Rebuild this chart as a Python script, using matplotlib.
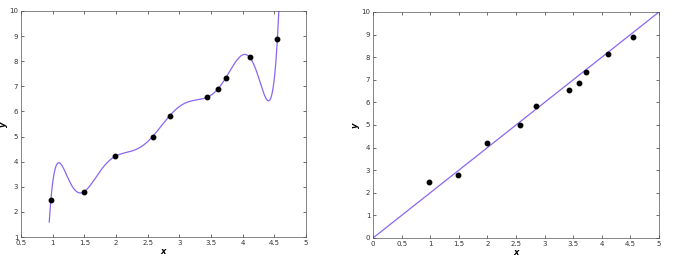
import numpy as np
import matplotlib
matplotlib.use("Agg")
import matplotlib.pyplot as plt

# data
x_data = [0.9717, 1.4913, 1.9870, 2.5777, 2.8449, 3.4334, 3.6033, 3.7310, 4.1114, 4.5479]
y_data = [2.4830, 2.7980, 4.2101, 5.0014, 5.8212, 6.5580, 6.8785, 7.3271, 8.1545, 8.8728]
line_slope = 2.0

line_color = "#8b66f2"

plt.rcParams["font.size"] = 5
plt.rcParams["font.family"] = "DejaVu Sans"

fig = plt.figure(figsize=(6.73, 2.59), dpi=100)
ax1 = fig.add_axes([21 / 673, 22 / 259, 285 / 673, 226 / 259])
ax2 = fig.add_axes([373 / 673, 21 / 259, 286 / 673, 226 / 259])

# left: interpolating polynomial through all points
poly = np.polynomial.Polynomial.fit(x_data, y_data, len(x_data) - 1)
xs = np.linspace(0.946, 4.57, 400)
ax1.plot(xs, poly(xs), color=line_color, lw=0.9)
ax1.plot(x_data, y_data, "o", color="black", ms=3.2)
ax1.set_xlim(0.5, 5)
ax1.set_ylim(1, 10)
ax1.set_xticks(np.arange(0.5, 5.01, 0.5))
ax1.set_xticklabels(["0.5", "1", "1.5", "2", "2.5", "3", "3.5", "4", "4.5", "5"])
ax1.set_yticks(range(1, 11))

# right: straight line fit
xl = np.array([0, 5])
ax2.plot(xl, line_slope * xl, color=line_color, lw=0.9)
ax2.plot(x_data, y_data, "o", color="black", ms=3.2)
ax2.set_xlim(0, 5)
ax2.set_ylim(0, 10)
ax2.set_xticks(np.arange(0, 5.01, 0.5))
ax2.set_xticklabels(["0", "0.5", "1", "1.5", "2", "2.5", "3", "3.5", "4", "4.5", "5"])
ax2.set_yticks(range(0, 11))

for ax in (ax1, ax2):
    ax.tick_params(direction="in", top=True, right=True, length=2, width=0.5,
                   pad=2, labelsize=5, colors="#333333")
    for s in ax.spines.values():
        s.set_linewidth(0.5)
        s.set_color("#555555")
    ax.set_xlabel("x", fontsize=6, style="italic", fontweight="bold", labelpad=1)
    ax.set_ylabel("y", fontsize=6, style="italic", fontweight="bold", labelpad=1)

fig.savefig("out.png", dpi=100)
